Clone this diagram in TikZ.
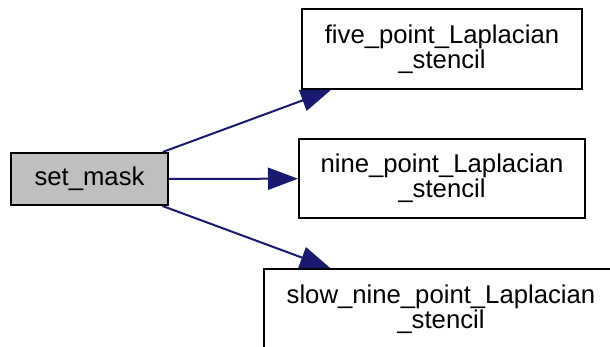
\documentclass[tikz,border=0pt]{standalone}
\usepackage{fontspec}
\setmainfont{Liberation Sans}
\usepackage{xcolor}
\usetikzlibrary{arrows.meta,positioning}

\definecolor{edgeblue}{HTML}{191970}
\definecolor{nodegray}{HTML}{BFBFBF}

\tikzset{
    func/.style={draw=black, line width=2pt, inner sep=0pt, align=center,
        font=\fontsize{25.7}{25}\selectfont},
    callee/.style={func, fill=white},
    caller/.style={func, fill=nodegray},
}

\begin{document}
\begin{tikzpicture}[x=1pt,y=1pt,>={Triangle[length=30pt,width=22pt]}]
    \useasboundingbox (0,0) rectangle (610,347);
    \node[caller, minimum width=157pt, minimum height=52pt] (setmask) at (89.5,168) {set\_mask};
    \node[callee, minimum width=280pt, minimum height=80pt] (five) at (442,298) {five\_point\_Laplacian\\\_stencil};
    \node[callee, minimum width=286pt, minimum height=79pt] (nine) at (442,168.5) {nine\_point\_Laplacian\\\_stencil};
    \node[callee, minimum width=354pt, minimum height=80pt] (slow) at (441,38) {slow\_nine\_point\_Laplacian\\\_stencil};
    \path[->, draw=edgeblue, fill=edgeblue, line width=2pt]
        (setmask) edge (five)
        (setmask) edge (nine)
        (setmask) edge (slow);
\end{tikzpicture}
\end{document}
